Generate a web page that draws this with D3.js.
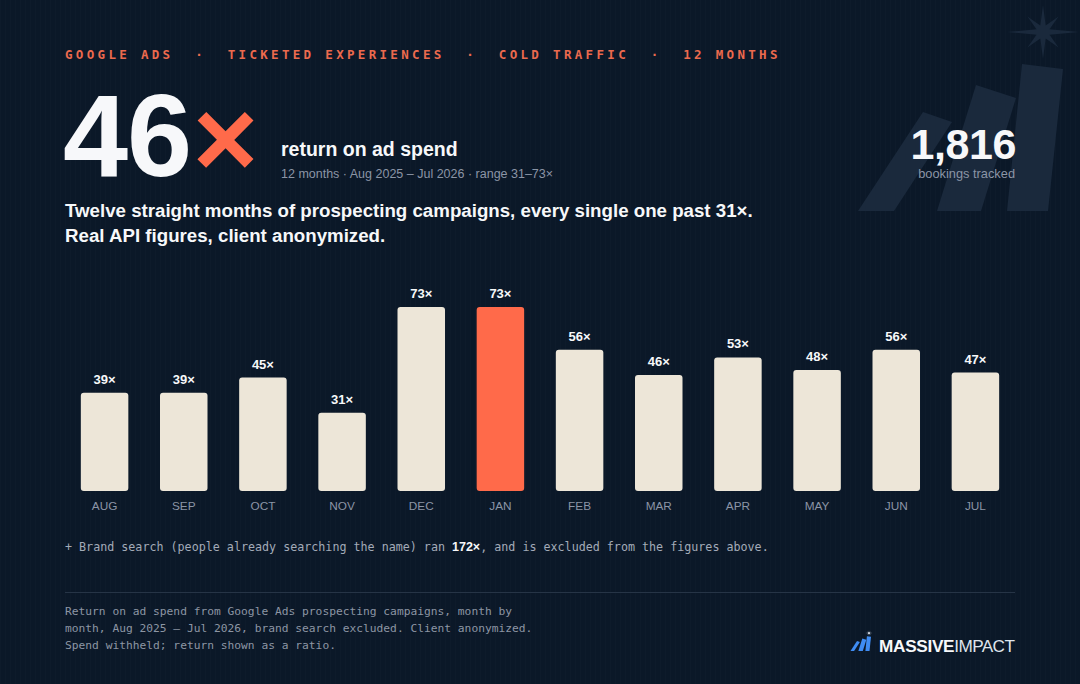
<!DOCTYPE html>
<html>
<head>
<meta charset="utf-8">
<script src="https://cdn.jsdelivr.net/npm/d3@7/dist/d3.min.js"></script>
<style>
  html, body { margin: 0; padding: 0; background: #0b1828; }
  svg { display: block; }
  text { white-space: pre; }
</style>
</head>
<body>
<svg id="chart" width="1080" height="684"></svg>
<script>
// ---- data ----
const months = ["AUG","SEP","OCT","NOV","DEC","JAN","FEB","MAR","APR","MAY","JUN","JUL"];
const roas = [39, 39, 45, 31, 73, 73, 56, 46, 53, 48, 56, 47];
const highlightMonth = "JAN";
const headerParts = ["GOOGLE ADS", "TICKETED EXPERIENCES", "COLD TRAFFIC", "12 MONTHS"];
const headlineValue = "46";
const bookings = "1,816";
const brandRoas = "172×";
const headlineLines = [
  "Twelve straight months of prospecting campaigns, every single one past 31×.",
  "Real API figures, client anonymized."
];
const footerLines = [
  "Return on ad spend from Google Ads prospecting campaigns, month by",
  "month, Aug 2025 – Jul 2026, brand search excluded. Client anonymized.",
  "Spend withheld; return shown as a ratio."
];

// ---- styles ----
const C = {
  bg: "#0b1828", orange: "#ff6a4a", header: "#ec6a4e", cream: "#ede6d8",
  white: "#f7f8fa", gray: "#8b95a6", mono: "#a3abb8", foot: "#8d96a4",
  ghost: "#1a293c", rule: "#263446", blue: "#3f8cf3"
};
const SANS = "'Liberation Sans', Arial, Helvetica, sans-serif";
const MONO = "'DejaVu Sans Mono', 'Liberation Mono', monospace";

const svg = d3.select("#chart");
svg.append("rect").attr("width", 1080).attr("height", 684).attr("fill", C.bg);

// subtle vertical texture
const defs = svg.append("defs");
const pat = defs.append("pattern").attr("id", "stripes").attr("width", 5).attr("height", 10)
  .attr("patternUnits", "userSpaceOnUse");
pat.append("rect").attr("width", 1).attr("height", 10).attr("fill", "#ffffff").attr("opacity", 0.012);
svg.append("rect").attr("width", 1080).attr("height", 684).attr("fill", "url(#stripes)");

// ---- logo shape (local coords, origin at bottom-left of first bar) ----
const logoBars = [
  [[65,-99],[94,-89],[36,0],[0,0]],
  [[118,-126],[158,-113],[123,0],[79,0]],
  [[164,-147],[205,-142],[190,0],[149,0]]
];
function starPoints(cx, cy) {
  const outer = [36, 22, 27, 22, 36, 22, 27, 22];
  const pts = [];
  for (let i = 0; i < 8; i++) {
    const a = i * Math.PI / 4;
    pts.push([cx + outer[i] * Math.cos(a), cy + outer[i] * Math.sin(a)]);
    const b = a + Math.PI / 8;
    pts.push([cx + 7 * Math.cos(b), cy + 7 * Math.sin(b)]);
  }
  return pts;
}
function drawLogo(g, barFill, starFill) {
  const line = d3.line();
  logoBars.forEach(p => g.append("path").attr("d", line(p) + "Z").attr("fill", barFill));
  g.append("path").attr("d", line(starPoints(185, -179)) + "Z").attr("fill", starFill);
}
drawLogo(svg.append("g").attr("transform", "translate(858,211)"), C.ghost, C.ghost);

// ---- header ----
svg.append("text")
  .attr("x", 65).attr("y", 59)
  .attr("font-family", MONO).attr("font-weight", "bold").attr("font-size", 12.5)
  .attr("letter-spacing", 3.32).attr("fill", C.header)
  .text(headerParts.join("  ·  "));

// ---- big number ----
svg.append("text").attr("x", 63).attr("y", 176)
  .attr("font-family", SANS).attr("font-weight", "bold").attr("font-size", 117)
  .attr("letter-spacing", -1).attr("fill", C.white).text(headlineValue);
svg.append("text").attr("x", 225.5).attr("y", 177).attr("text-anchor", "middle")
  .attr("font-family", SANS).attr("font-weight", "bold").attr("font-size", 112)
  .attr("fill", C.orange).text("×");

svg.append("text").attr("x", 281).attr("y", 156)
  .attr("font-family", SANS).attr("font-weight", "bold").attr("font-size", 19.5)
  .attr("fill", C.white).text("return on ad spend");
svg.append("text").attr("x", 281).attr("y", 178)
  .attr("font-family", SANS).attr("font-size", 12.5)
  .attr("fill", C.gray)
  .text(`12 months · Aug 2025 – Jul 2026 · range ${d3.min(roas)}–${d3.max(roas)}×`);

// ---- bookings ----
svg.append("text").attr("x", 1016).attr("y", 159).attr("text-anchor", "end")
  .attr("font-family", SANS).attr("font-weight", "bold").attr("font-size", 43)
  .attr("letter-spacing", -0.4).attr("fill", C.white).text(bookings);
svg.append("text").attr("x", 1015).attr("y", 178).attr("text-anchor", "end")
  .attr("font-family", SANS).attr("font-size", 12.8)
  .attr("fill", C.gray).text("bookings tracked");

// ---- headline ----
const hl = headlineLines.map((t, i) => svg.append("text").attr("x", 65).attr("y", 217 + i * 25)
  .attr("font-family", SANS).attr("font-weight", "bold").attr("font-size", 17.5)
  .attr("fill", C.white).text(t));
{
  const w = hl[0].node().getComputedTextLength();
  const fs = 17.5 * 688 / w;
  hl.forEach(el => el.attr("font-size", fs));
}

// ---- bar chart ----
const x = d3.scaleBand().domain(months).range([65, 1015]).paddingInner(0.4).paddingOuter(0.2);
const y = d3.scaleLinear().domain([0, d3.max(roas)]).range([491, 307]);
const data = months.map((m, i) => ({ m, v: roas[i] }));

const gBars = svg.append("g");
gBars.selectAll("rect").data(data).join("rect")
  .attr("x", d => x(d.m)).attr("width", x.bandwidth())
  .attr("y", d => y(d.v)).attr("height", d => y(0) - y(d.v))
  .attr("rx", 3).attr("ry", 3)
  .attr("fill", d => d.m === highlightMonth ? C.orange : C.cream);

gBars.selectAll("text.val").data(data).join("text").attr("class", "val")
  .attr("x", d => x(d.m) + x.bandwidth() / 2).attr("y", d => y(d.v) - 9)
  .attr("text-anchor", "middle")
  .attr("font-family", SANS).attr("font-weight", "bold").attr("font-size", 13)
  .attr("fill", C.white).text(d => d.v + "×");

const xAxis = svg.append("g").attr("transform", "translate(0,491)")
  .call(d3.axisBottom(x).tickSize(0).tickPadding(14));
xAxis.select(".domain").remove();
xAxis.selectAll("text").attr("font-family", SANS).attr("font-size", 11.8)
  .attr("fill", C.gray).attr("dy", "0.71em").attr("y", 11);

// ---- footnote ----
const fn = svg.append("text").attr("x", 65).attr("y", 551)
  .attr("font-family", MONO).attr("font-size", 11.7).attr("fill", C.mono);
fn.append("tspan").text("+ Brand search (people already searching the name) ran ");
fn.append("tspan").attr("font-family", SANS).attr("font-weight", "bold").attr("font-size", 12.5)
  .attr("fill", C.white).text(brandRoas);
fn.append("tspan").text(", and is excluded from the figures above.");

svg.append("line").attr("x1", 65).attr("x2", 1015).attr("y1", 592.5).attr("y2", 592.5)
  .attr("stroke", C.rule).attr("stroke-width", 1);

footerLines.forEach((t, i) => {
  svg.append("text").attr("x", 65).attr("y", 615 + i * 17)
    .attr("font-family", MONO).attr("font-size", 11.25).attr("fill", C.foot).text(t);
});

// ---- brand logo ----
drawLogo(svg.append("g").attr("transform", "translate(850.5,651) scale(0.1)"), C.blue, "#e9eef7");
const lt = svg.append("text").attr("x", 879).attr("y", 651.5)
  .attr("font-family", SANS).attr("font-size", 17.2).attr("fill", C.white);
lt.append("tspan").attr("font-weight", "bold").attr("letter-spacing", -0.3).text("MASSIVE");
lt.append("tspan").attr("font-weight", "normal").attr("letter-spacing", -0.6).attr("fill", "#dfe4ec").text("IMPACT");
</script>
</body>
</html>
